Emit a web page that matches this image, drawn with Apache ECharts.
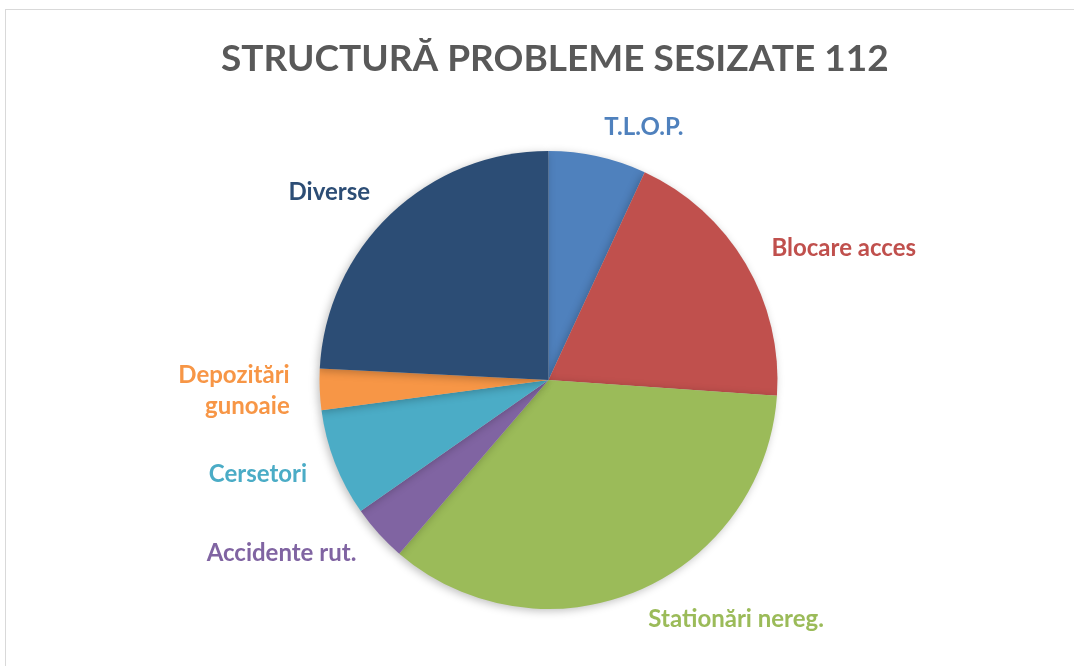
<!DOCTYPE html>
<html>
<head>
<meta charset="utf-8">
<script src="https://cdn.jsdelivr.net/npm/echarts@6/dist/echarts.min.js"></script>
<style>
  html, body { margin: 0; padding: 0; background: #fff; }
  #frame { position: absolute; left: 5px; top: 9px; width: 1080px; height: 670px; border: 1px solid #d9d9d9; box-sizing: border-box; }
  #chart { position: absolute; left: 0; top: 0; width: 1074px; height: 666px; }
</style>
</head>
<body>
<div id="frame"></div>
<div id="chart"></div>
<script>
// Categories and their share of reported problems (%)
const categories = ['T.L.O.P.', 'Blocare acces', 'Stationări nereg.', 'Accidente rut.', 'Cersetori', 'Depozitări\ngunoaie', 'Diverse'];
const values = [6.9, 19.2, 35.2, 4.0, 7.6, 2.9, 24.2];
const colors = ['#4F81BD', '#C0504D', '#9BBB59', '#8064A2', '#4BACC6', '#F79646', '#2C4D75'];
const titleText = 'STRUCTURĂ PROBLEME SESIZATE 112';

const chart = echarts.init(document.getElementById('chart'), null, { renderer: 'canvas' });

chart.setOption({
  animation: false,
  title: {
    text: titleText,
    left: 216,
    top: 36,
    textStyle: { fontFamily: 'Lato', fontWeight: 'bold', fontSize: 37, color: '#595959' }
  },
  series: [{
    type: 'pie',
    center: [548.5, 380],
    radius: 229,
    startAngle: 90,
    clockwise: true,
    avoidLabelOverlap: false,
    data: categories.map((name, i) => ({
      name: name,
      value: values[i],
      itemStyle: { color: colors[i] },
      label: { color: colors[i] }
    })),
    itemStyle: {
      borderWidth: 0,
      shadowBlur: 8,
      shadowOffsetX: -2,
      shadowOffsetY: 2,
      shadowColor: 'rgba(0,0,0,0.25)'
    },
    label: {
      show: true,
      position: 'outside',
      formatter: '{b}',
      fontFamily: 'Lato',
      fontWeight: 'bold',
      fontSize: 24,
      lineHeight: 31,
      distanceToLabelLine: 0
    },
    labelLine: { show: false, length: 30, length2: 0 },
    emphasis: { disabled: true }
  }]
});
</script>
</body>
</html>
